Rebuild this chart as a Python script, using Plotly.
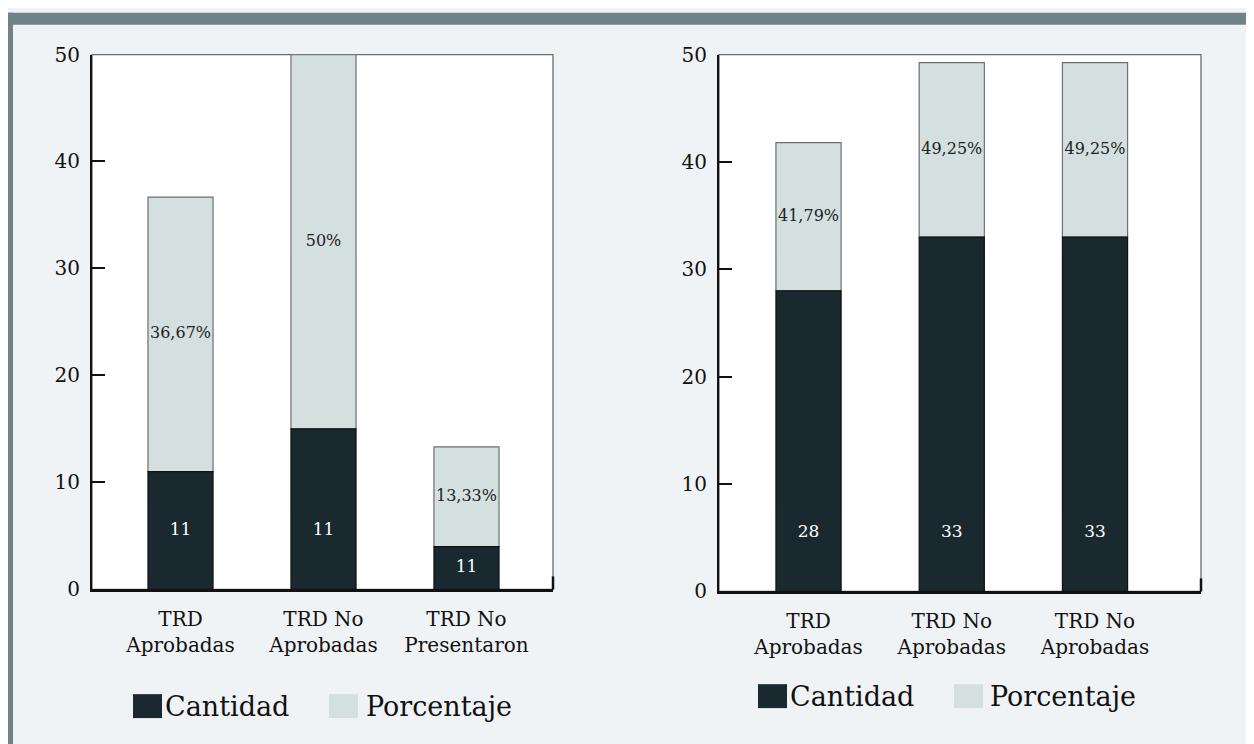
import plotly.graph_objects as go

# Figure size and the mapping from reference (screen) pixels to figure pixels
FW, FH = 1246, 748
OFF_X = 8
OFF_Y, SCALE_Y = 19.4, 0.97

# ---------------- data ----------------
categorias_izq = ["TRD<br>Aprobadas", "TRD No<br>Aprobadas", "TRD No<br>Presentaron"]
cantidad_izq = [11, 15, 4]
cantidad_izq_txt = ["11", "11", "11"]
porcentaje_izq = [36.67, 50, 13.33]
porcentaje_izq_txt = ["36,67%", "50%", "13,33%"]

categorias_der = ["TRD<br>Aprobadas", "TRD No<br>Aprobadas", "TRD No<br>Aprobadas"]
cantidad_der = [28, 33, 33]
cantidad_der_txt = ["28", "33", "33"]
porcentaje_der = [41.79, 49.25, 49.25]
porcentaje_der_txt = ["41,79%", "49,25%", "49,25%"]

y_ticks = [0, 10, 20, 30, 40, 50]

# ---------------- style ----------------
FONT = "DejaVu Serif"
DARK = "#19292f"
LIGHT = "#d4e0e0"
BG = "#eff3f6"
BORDER = "#6f8287"
LABEL_LEVEL = 5.5


def px_x(p):
    return (p - OFF_X) / FW


def px_y(p):
    return 1 - ((p - OFF_Y) / SCALE_Y) / FH


fig = go.Figure()


def add_panel(xa, ya, cats, cant, cant_txt, pct, pct_txt):
    xs = list(range(len(cats)))
    fig.add_trace(go.Bar(
        x=xs, y=[p - c for p, c in zip(pct, cant)], base=cant,
        marker=dict(color=LIGHT, line=dict(color="#6e6e6e", width=1.2)),
        width=0.455, xaxis=xa, yaxis=ya, showlegend=False, hoverinfo="skip"))
    fig.add_trace(go.Bar(
        x=xs, y=cant,
        marker=dict(color=DARK, line=dict(color="#111111", width=1.2)),
        width=0.455, xaxis=xa, yaxis=ya, showlegend=False, hoverinfo="skip"))
    fig.add_trace(go.Scatter(
        x=xs, y=[(c + p) / 2 for c, p in zip(cant, pct)], text=pct_txt,
        mode="text", textfont=dict(family=FONT, size=16, color="#222222"),
        xaxis=xa, yaxis=ya, showlegend=False, hoverinfo="skip"))
    fig.add_trace(go.Scatter(
        x=xs, y=[min(c / 2, LABEL_LEVEL) for c in cant], text=cant_txt,
        mode="text", textfont=dict(family=FONT, size=17, color="#ffffff"),
        xaxis=xa, yaxis=ya, showlegend=False, hoverinfo="skip"))


add_panel("x", "y", categorias_izq, cantidad_izq, cantidad_izq_txt,
          porcentaje_izq, porcentaje_izq_txt)
add_panel("x2", "y2", categorias_der, cantidad_der, cantidad_der_txt,
          porcentaje_der, porcentaje_der_txt)

xaxis_common = dict(
    showgrid=False, zeroline=False, showline=True, linecolor="#111111",
    linewidth=2.5, ticks="", tickfont=dict(family=FONT, size=20, color="#111111"),
    ticklabelstandoff=10, fixedrange=True,
)
yaxis_common = dict(
    range=[0, 50], tickvals=y_ticks, showgrid=False, zeroline=False,
    showline=True, linecolor="#111111", linewidth=2, ticks="inside",
    ticklen=13, tickwidth=2, tickcolor="#111111",
    tickfont=dict(family=FONT, size=20, color="#111111"),
    ticklabelstandoff=6, fixedrange=True,
)

fig.update_layout(
    width=FW, height=FH,
    margin=dict(l=0, r=0, t=0, b=0),
    paper_bgcolor=BG,
    plot_bgcolor="#ffffff",
    barmode="overlay",
    xaxis=dict(domain=[px_x(92), px_x(553)], range=[-0.619, 2.605],
               tickvals=list(range(len(categorias_izq))), ticktext=categorias_izq,
               anchor="y", **xaxis_common),
    yaxis=dict(domain=[px_y(590), px_y(54)], anchor="x", **yaxis_common),
    xaxis2=dict(domain=[px_x(719), px_x(1201)], range=[-0.625, 2.74],
                tickvals=list(range(len(categorias_der))), ticktext=categorias_der,
                anchor="y2", **xaxis_common),
    yaxis2=dict(domain=[px_y(592), px_y(54)], anchor="x2", **yaxis_common),
)

shapes = [
    # border strips (top / left) of the outer panel
    dict(type="rect", xref="paper", yref="paper",
         x0=0, x1=1.01, y0=1 - 5 / FH, y1=1.01,
         fillcolor=BORDER, line=dict(width=0), layer="below"),
    dict(type="rect", xref="paper", yref="paper",
         x0=-0.01, x1=px_x(13), y0=-0.01, y1=1.01,
         fillcolor=BORDER, line=dict(width=0), layer="below"),
    # faint line at the right edge
    dict(type="line", xref="paper", yref="paper",
         x0=px_x(1253), x1=px_x(1253), y0=0, y1=1 - 5 / FH,
         line=dict(color="#dfe4e8", width=1), layer="below"),
]
# plot frames (thin gray on top/right) and end tick on x axis
for xd, yd in (("x domain", "y domain"), ("x2 domain", "y2 domain")):
    shapes.append(dict(type="rect", xref=xd, yref=yd, x0=0, x1=1, y0=0, y1=1,
                       fillcolor="#ffffff",
                       line=dict(color="#6b6b6b", width=1.3), layer="below"))
for xd, yd, h in (("x domain", "y domain", 536), ("x2 domain", "y2 domain", 538)):
    shapes.append(dict(type="line", xref=xd, yref=yd, x0=1, x1=1, y0=0, y1=13 / h,
                       line=dict(color="#111111", width=2.5)))

# custom legends
annotations = []
legend_items = [
    # (swatch x0 px, swatch y0 px, color, text, text x px)
    (133, 695, DARK, "Cantidad", 163),
    (329, 695, LIGHT, "Porcentaje", 364),
    (758, 685, DARK, "Cantidad", 788),
    (954, 685, LIGHT, "Porcentaje", 988),
]
for sx, sy, col, txt, tx in legend_items:
    shapes.append(dict(type="rect", xref="paper", yref="paper",
                       x0=px_x(sx), x1=px_x(sx + 29), y0=px_y(sy + 24), y1=px_y(sy),
                       fillcolor=col, line=dict(width=0)))
    annotations.append(dict(xref="paper", yref="paper", x=px_x(tx), y=px_y(sy + 12),
                            xanchor="left", yanchor="middle", showarrow=False,
                            text=txt, font=dict(family=FONT, size=27, color="#111111")))

fig.update_layout(shapes=shapes, annotations=annotations)

fig.write_html("out.html")
